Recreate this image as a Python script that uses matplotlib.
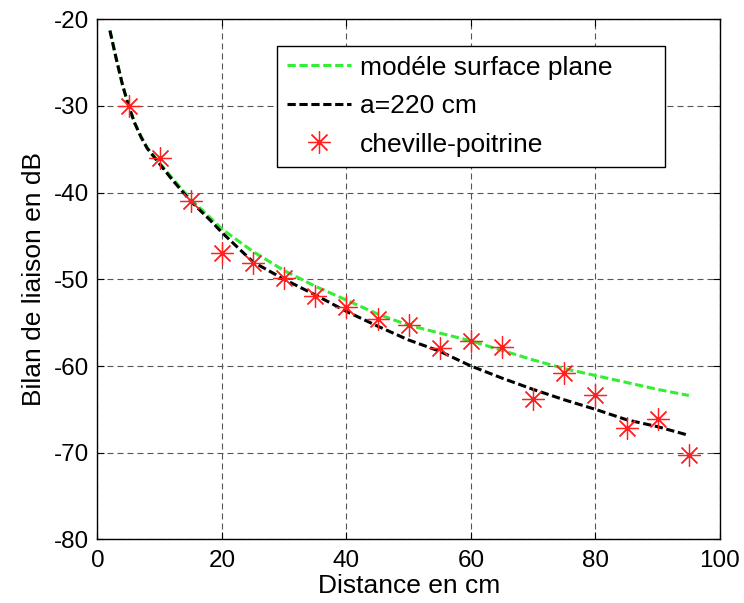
import matplotlib
matplotlib.use("Agg")
import matplotlib.pyplot as plt

plt.rcParams['font.family'] = ['Liberation Sans', 'DejaVu Sans']
plt.rcParams['axes.unicode_minus'] = False

# Data
x_model = [2, 3, 4, 5, 6, 7, 8, 10, 12, 15, 18, 20, 25, 30, 35, 40, 45, 50,
           55, 60, 65, 70, 75, 80, 85, 90, 95]
y_plane = [-21.3, -24.5, -27.5, -30.0, -32.0, -33.5, -34.8, -36.6, -38.3, -40.8,
           -42.8, -44.2, -46.8, -49.0, -50.8, -52.4, -54.0, -55.3, -56.2, -57.1,
           -58.2, -59.3, -60.3, -61.1, -61.9, -62.7, -63.4]
y_a220 = [-21.3, -24.5, -27.5, -30.0, -32.0, -33.6, -34.9, -36.7, -38.5, -41.0,
          -43.1, -44.6, -48.0, -50.0, -51.8, -53.7, -55.4, -57.0, -58.3, -60.0,
          -61.4, -62.7, -63.9, -65.0, -66.2, -67.0, -68.0]
x_meas = [5, 10, 15, 20, 25, 30, 35, 40, 45, 50, 55, 60, 65, 70, 75, 80, 85, 90, 95]
y_meas = [-30.0, -36.0, -41.0, -47.0, -48.1, -49.8, -51.9, -53.2, -54.6, -55.3,
          -57.9, -57.1, -57.8, -63.8, -60.8, -63.4, -67.2, -66.1, -70.3]

labels = ['modéle surface plane', 'a=220 cm', 'cheville-poitrine']
x_ticks = [0, 20, 40, 60, 80, 100]
y_ticks = [-80, -70, -60, -50, -40, -30, -20]

fig = plt.figure(figsize=(7.44, 6.03), dpi=100)
ax = fig.add_axes([0.131, 0.1055, 0.8367, 0.8625])

ax.plot(x_model, y_plane, color='#33ee33', lw=2.2, linestyle=(0, (2.7, 1.2)),
        label=labels[0])
ax.plot(x_model, y_a220, color='black', lw=2.2, linestyle=(0, (2.7, 1.2)),
        label=labels[1])
ax.plot(x_meas, y_meas, linestyle='none', marker=(8, 2, 0), markersize=16,
        markeredgewidth=0.9, color='#ff2020', label=labels[2])

ax.set_xlim(0, 100)
ax.set_ylim(-80, -20)
ax.set_xticks(x_ticks)
ax.set_yticks(y_ticks)
ax.grid(True, color='#555555', lw=0.8, linestyle=(0, (5.4, 3.6)))
ax.set_axisbelow(True)
ax.tick_params(direction='in', length=5, width=0.8, top=True, right=True,
               labelsize=17.5, colors='black')
ax.tick_params(axis='x', pad=8)
ax.tick_params(axis='y', pad=6)
for s in ax.spines.values():
    s.set_linewidth(1.0)
    s.set_color('black')

ax.set_xlabel('Distance en cm', fontsize=19, labelpad=1)
ax.set_ylabel('Bilan de liaison en dB', fontsize=19, labelpad=6)

leg = ax.legend(loc='upper left', bbox_to_anchor=(0.288, 0.7135, 0.624, 0.236),
                mode='expand', borderaxespad=0, fontsize=19, numpoints=1,
                handlelength=2.42, handletextpad=0.34, borderpad=0.38,
                labelspacing=0.55, fancybox=False, framealpha=1,
                edgecolor='black')
leg.get_frame().set_linewidth(1.0)

fig.savefig('out.png', dpi=100)
